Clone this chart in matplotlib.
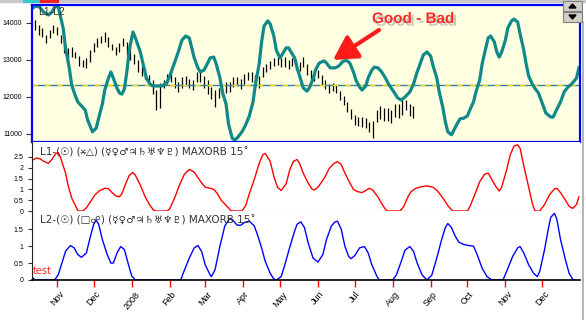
import datetime as dt
import numpy as np
import matplotlib
matplotlib.use("Agg")
import matplotlib.pyplot as plt
import matplotlib.dates as mdates
import matplotlib.patheffects as pe
from matplotlib import font_manager as fm
from matplotlib.ft2font import FT2Font
from matplotlib.patches import Rectangle, Polygon

# ---- data (x values are days since 2007-11-01) ----
base = dt.date(2007, 11, 1)

# price bars, one every 3 days from day -18
bar_start = -18
bar_step = 3
price_hi = [14070, 13940, 13860, 13670, 13800, 13940, 13880, 13670, 13450, 13320,
            13340, 13210, 13100, 12990, 13050, 13260, 13450, 13590, 13640, 13750,
            13610, 13420, 13340, 13450, 13590, 13480, 13340, 13150, 12990, 12860,
            12770, 12590, 12450, 12180, 12370, 12450, 12610, 12700, 12530, 12400,
            12530, 12560, 12480, 12450, 12670, 12670, 12560, 12450, 12260, 12180,
            12240, 12290, 12400, 12400, 12530, 12530, 12480, 12610, 12670, 12670,
            12590, 12560, 12800, 12880, 12960, 13050, 13070, 13050, 13070, 12990,
            13050, 12990, 12940, 13070, 12880, 12720, 12640, 12720, 12590, 12450,
            12340, 12370, 12320, 12150, 12020, 11860, 11670, 11510, 11450, 11450,
            11420, 11320, 11340, 11640, 11750, 11690, 11690, 11640, 11800, 11800,
            11910, 11910, 11800, 11750]
price_lo = [13800, 13670, 13610, 13450, 13590, 13720, 13670, 13450, 13180, 12990,
            13070, 13050, 12830, 12800, 12780, 12940, 13210, 13340, 13450, 13480,
            13340, 13260, 13130, 13210, 13370, 13100, 12990, 12880, 12670, 12560,
            12480, 12320, 12070, 11640, 11690, 12240, 12340, 12400, 12240, 12130,
            12240, 12290, 12240, 12180, 12400, 12400, 12240, 12070, 11940, 11720,
            11970, 12020, 12100, 12130, 12260, 12290, 12210, 12340, 12450, 12400,
            12260, 12240, 12530, 12670, 12750, 12830, 12860, 12800, 12800, 12750,
            12830, 12720, 12690, 12800, 12590, 12450, 12420, 12500, 12320, 12210,
            12100, 12150, 12100, 11910, 11780, 11590, 11400, 11240, 11210, 11180,
            11150, 11050, 10880, 11320, 11400, 11340, 11340, 11290, 11450, 11420,
            11510, 11640, 11480, 11420]

# L1-L2 curve
l12_days = [-20, -17, -14, -11, -7, -4, -2, 1, 2, 5,
            7, 10, 12, 15, 17, 20, 23, 25, 28, 29,
            32, 34, 37, 39, 42, 44, 46, 49, 51, 53,
            55, 57, 59, 62, 64, 68, 71, 73, 76, 78,
            82, 86, 90, 92, 95, 99, 102, 105, 108, 110,
            112, 115, 117, 120, 123, 125, 128, 130, 133, 135,
            138, 140, 143, 145, 147, 151, 154, 157, 160, 162,
            165, 167, 169, 172, 174, 177, 179, 182, 184, 187,
            189, 191, 194, 196, 199, 201, 204, 206, 209, 211,
            214, 218, 220, 223, 227, 230, 233, 236, 239, 242,
            244, 247, 249, 252, 254, 257, 259, 262, 265, 268,
            271, 275, 278, 281, 284, 288, 291, 294, 297, 299,
            302, 305, 307, 310, 312, 315, 317, 319, 322, 324,
            327, 329, 332, 335, 337, 340, 342, 345, 347, 350,
            352, 354, 357, 359, 361, 363, 366, 368, 371, 373,
            376, 378, 381, 383, 385, 388, 390, 393, 396, 399,
            403, 405, 407, 411, 414, 417, 420, 424, 426]
l12_vals = [14400, 14450, 14420, 14290, 14210, 14290, 14420, 14450, 14290, 13860,
            13320, 12780, 12320, 12020, 11860, 11750, 11640, 11370, 11130, 11050,
            11150, 11420, 11800, 12180, 12500, 12670, 12500, 12230, 12100, 12070,
            12210, 12670, 13260, 13750, 13590, 13210, 12780, 12500, 12340, 12290,
            12290, 12290, 12400, 12560, 12830, 13210, 13530, 13640, 13590, 13320,
            13050, 12780, 12670, 12720, 12910, 13050, 13070, 12880, 12510, 12130,
            11800, 11260, 10880, 10830, 10880, 11050, 11240, 11480, 11860, 12340,
            12880, 13480, 13910, 14050, 13970, 13640, 13260, 13050, 13150, 13320,
            13320, 13210, 13050, 12780, 12450, 12240, 12150, 12240, 12480, 12720,
            12910, 12970, 12910, 12780, 12780, 12830, 12940, 12990, 12910, 12670,
            12450, 12260, 12180, 12290, 12510, 12720, 12800, 12780, 12670, 12510,
            12320, 12130, 11970, 11910, 11990, 12130, 12340, 12670, 12940, 13130,
            13210, 13100, 12830, 12510, 12130, 11700, 11320, 11050, 10970, 11100,
            11290, 11400, 11420, 11480, 11640, 11860, 12130, 12450, 12880, 13320,
            13590, 13640, 13480, 13210, 13070, 13210, 13530, 13860, 14050, 14100,
            14020, 13700, 13260, 12880, 12560, 12340, 12230, 12100, 11830, 11560,
            11450, 11450, 11590, 11860, 12130, 12260, 12340, 12500, 12780]
mid_level = 12320

# L1 aspect curve
l1_days = [-20, -17, -14, -11, -7, -4, -1, 1, 3, 7,
           9, 12, 15, 17, 18, 21, 24, 27, 31, 35,
           39, 42, 45, 48, 51, 53, 56, 59, 62, 64,
           68, 72, 76, 79, 81, 90, 92, 96, 100, 104,
           108, 112, 115, 118, 121, 125, 128, 131, 134, 139,
           142, 143, 151, 154, 157, 161, 165, 168, 170, 174,
           177, 180, 183, 187, 190, 193, 196, 198, 201, 205,
           208, 210, 213, 218, 222, 226, 229, 232, 235, 239,
           242, 245, 249, 252, 255, 258, 262, 265, 268, 270,
           280, 283, 286, 289, 293, 297, 302, 307, 311, 315,
           319, 323, 335, 337, 341, 345, 349, 352, 354, 358,
           361, 363, 367, 370, 373, 376, 378, 381, 385, 388,
           390, 391, 394, 398, 402, 406, 408, 411, 415, 418,
           421, 424, 426]
l1_vals = [2.35, 2.45, 2.42, 2.3, 2.2, 2.4, 2.65, 2.7, 2.45, 1.75,
           1.2, 0.6, 0.25, 0.02, 0, 0, 0.15, 0.4, 0.75, 0.95,
           1.05, 1.03, 0.85, 0.7, 0.66, 0.8, 1.25, 1.65, 1.78, 1.65,
           1.2, 0.65, 0.25, 0.03, 0, 0, 0.1, 0.6, 1.2, 1.7,
           1.92, 1.8, 1.55, 1.3, 1.1, 1.05, 1.0, 0.8, 0.5, 0.2,
           0.02, 0, 0, 0.25, 0.8, 1.45, 2.2, 2.6, 2.66, 2.3,
           1.6, 1.1, 0.95, 1.25, 1.9, 2.3, 2.38, 2.2, 1.75, 1.3,
           1.02, 0.97, 1.1, 1.5, 1.95, 2.2, 2.28, 2.15, 1.75, 1.3,
           1.0, 0.9, 0.85, 0.95, 1.05, 0.95, 0.65, 0.35, 0.08, 0,
           0, 0.2, 0.6, 0.9, 1.05, 1.12, 1.16, 1.1, 0.9, 0.6,
           0.25, 0, 0, 0.2, 0.75, 1.35, 1.7, 1.75, 1.55, 1.15,
           0.92, 1.1, 1.9, 2.6, 3.0, 3.06, 2.9, 2.1, 1.1, 0.35,
           0.02, 0, 0, 0.3, 0.75, 1.02, 1.05, 0.85, 0.5, 0.22,
           0.12, 0.3, 0.65]

# L2 aspect curve
l2_days = [-20, -19, -17, -2, 1, 4, 7, 11, 14, 17,
           20, 24, 27, 30, 32, 34, 37, 41, 44, 46,
           49, 52, 55, 58, 61, 64, 101, 103, 108, 112,
           115, 118, 121, 125, 126, 129, 133, 137, 141, 144,
           147, 150, 153, 157, 161, 164, 167, 170, 174, 177,
           179, 183, 186, 190, 194, 196, 199, 202, 205, 209,
           213, 217, 220, 224, 227, 229, 232, 235, 238, 240,
           243, 247, 251, 254, 257, 261, 263, 274, 277, 281,
           284, 288, 291, 294, 298, 302, 306, 310, 314, 317,
           319, 322, 325, 328, 332, 336, 340, 343, 347, 351,
           355, 364, 367, 372, 376, 378, 381, 385, 389, 392,
           394, 398, 401, 403, 406, 408, 411, 415, 418, 421,
           423]
l2_vals = [0.08, 0.03, 0, 0, 0.15, 0.5, 0.85, 1.02, 0.95, 0.75,
           0.67, 0.8, 1.25, 1.65, 1.77, 1.65, 1.2, 0.75, 0.5, 0.5,
           0.8, 0.99, 0.9, 0.5, 0.12, 0, 0, 0.2, 0.65, 0.95,
           1.02, 0.85, 0.45, 0.15, 0.1, 0.3, 1.0, 1.6, 1.82, 1.75,
           1.62, 1.62, 1.7, 1.74, 1.6, 1.3, 0.95, 0.55, 0.2, 0.03,
           0, 0.1, 0.45, 0.97, 1.45, 1.65, 1.72, 1.55, 1.1, 0.65,
           0.53, 0.75, 1.2, 1.6, 1.72, 1.74, 1.5, 1.0, 0.7, 0.63,
           0.72, 0.95, 0.99, 0.8, 0.45, 0.12, 0, 0, 0.15, 0.55,
           0.88, 0.99, 0.85, 0.5, 0.15, 0, 0.15, 0.65, 1.2, 1.55,
           1.67, 1.55, 1.3, 1.12, 1.05, 1.02, 1.0, 0.75, 0.35, 0.1,
           0, 0, 0.25, 0.7, 0.95, 0.99, 0.8, 0.45, 0.2, 0.1,
           0.25, 0.9, 1.5, 1.85, 1.97, 1.8, 1.2, 0.6, 0.2, 0.02,
           0]

month_labels = ["Nov", "Dec", "2008", "Feb", "Mar", "Apr", "May",
                "Jun", "Jul", "Aug", "Sep", "Oct", "Nov", "Dec"]

SEXTILE = "\u26b9"
planets = "\u263f\u2640\u2642\u2643\u2644\u2645\u2646\u2647"
label_l1 = "L1-(\u2609) (" + SEXTILE + "\u25b3) (" + planets + ") MAXORB 15\u02da"
label_l2 = "L2-(\u2609) (\u25a1\u260d) (" + planets + ") MAXORB 15\u02da"

# find an installed family that has the sextile glyph
label_fams = ["DejaVu Sans"]
sextile_ok = False
for f in fm.fontManager.ttflist:
    try:
        if FT2Font(f.fname).get_char_index(ord(SEXTILE)):
            label_fams.append(f.name)
            sextile_ok = True
            break
    except Exception:
        pass
if not sextile_ok:
    # no installed font has it: use the closest asterisk-like glyph
    label_l1 = label_l1.replace(SEXTILE, "\u2731")

# ---- plotting ----
d0 = mdates.date2num(base)
def tx(days):
    return d0 + np.asarray(days, dtype=float)

bar_x = tx(bar_start + bar_step * np.arange(len(price_hi)))
month_x = [mdates.date2num(dt.date(2007 + (10 + i) // 12, (10 + i) % 12 + 1, 1))
           for i in range(len(month_labels))]
xlim = (tx(-20.4), tx(426.5))

W, H = 586, 320
fig = plt.figure(figsize=(W / 100, H / 100), dpi=100)
fig.patch.set_facecolor("white")

def fax(l, t, r, b):
    return fig.add_axes([l / W, 1 - b / H, (r - l) / W, (b - t) / H])

ax1 = fax(32, 5, 579.5, 142)
ax2 = fax(32, 142, 579.5, 211)
ax3 = fax(32, 211, 579.5, 280)

tickfont = dict(family=["Liberation Sans", "DejaVu Sans"], size=5)

# top panel
ax1.set_facecolor("#ffffe1")
ax1.vlines(bar_x, price_lo, price_hi, color="black", lw=0.9)
ax1.axhline(mid_level, color="#2f7f9f", lw=1)
ax1.axhline(mid_level, color="#f0d800", lw=1, dashes=(4, 5))
ax1.plot(tx(l12_days), l12_vals, color="#11898a", lw=2.3, solid_joinstyle="round")
ax1.set_xlim(*xlim)
ax1.set_ylim(10775, 14480)
ax1.set_xticks([])
ax1.set_yticks([11000, 12000, 13000, 14000])
ax1.set_yticklabels(["11000", "12000", "13000", "14000"], fontdict=tickfont)
ax1.tick_params(axis="y", length=4, width=0.8, pad=3, color="#333333")
for s in ax1.spines.values():
    s.set_color("#0000ff")
    s.set_linewidth(1.6)

# middle panel
ax2.plot(tx(l1_days), l1_vals, color="#ff0000", lw=1)
ax2.set_xlim(*xlim)
ax2.set_ylim(0, 3.19)
ax2.set_xticks([])
ax2.set_yticks([0, 0.5, 1, 1.5, 2, 2.5])
ax2.set_yticklabels(["0", "0.5", "1", "1.5", "2", "2.5"], fontdict=tickfont)
ax2.tick_params(axis="y", length=3, width=0.8, pad=3, color="#333333")
ax2.spines["top"].set_visible(False)
ax2.spines["right"].set_visible(False)
ax2.spines["bottom"].set_color("#b0b0b0")
ax2.spines["left"].set_color("#222222")
ax2.spines["left"].set_linewidth(0.8)

# bottom panel
ax3.plot(tx(l2_days), l2_vals, color="#0000ff", lw=1)
ax3.set_xlim(*xlim)
ax3.set_ylim(0, 2.04)
ax3.set_yticks([0, 0.5, 1, 1.5])
ax3.set_yticklabels(["0", "0.5", "1", "1.5"], fontdict=tickfont)
ax3.tick_params(axis="y", length=3, width=0.8, pad=3, color="#333333")
ax3.set_xticks(month_x)
ax3.set_xticklabels(month_labels, rotation=50, ha="center", va="top",
                    fontdict=dict(family=["Liberation Sans", "DejaVu Sans"], size=6.5))
ax3.tick_params(axis="x", length=5, width=1, color="#ff0000", pad=2)
ax3.spines["top"].set_visible(False)
ax3.spines["right"].set_visible(False)
ax3.spines["bottom"].set_color("black")
ax3.spines["bottom"].set_linewidth(1.2)
ax3.spines["left"].set_color("#222222")
ax3.spines["left"].set_linewidth(0.8)

# texts
fig.text(38 / W, 1 - 12 / H, "L1-L2", family=["Liberation Sans", "DejaVu Sans"],
         size=7.5, color="#333333", va="center", ha="left")
fig.text(40 / W, 1 - 152 / H, label_l1, family=label_fams,
         size=7.5, color="#333333", va="center", ha="left")
fig.text(40 / W, 1 - 220 / H, label_l2, family=label_fams,
         size=7.5, color="#333333", va="center", ha="left")
fig.text(33 / W, 1 - 271 / H, "test", family="DejaVu Sans", size=7,
         color="#ff2020", va="center", ha="left")

shadow = [pe.SimplePatchShadow(offset=(2, -2), shadow_rgbFace="#888888", alpha=0.45), pe.Normal()]
fig.text(372 / W, 1 - 19 / H, "Good - Bad", family=["Liberation Sans", "DejaVu Sans"],
         size=11, weight="bold", color="#ff2a2a", va="center", ha="left",
         path_effects=shadow)
ax1.annotate("", xy=(333 / W, 1 - 60 / H), xycoords="figure fraction",
             xytext=(379 / W, 1 - 30 / H), textcoords="figure fraction",
             arrowprops=dict(arrowstyle="-|>,head_length=0.9,head_width=0.5",
                             lw=3, color="#ff1a1a", mutation_scale=16,
                             shrinkA=0, shrinkB=0, path_effects=shadow))

# window chrome: top strip, scroll buttons, right edge
fig.patches.append(Rectangle((0, 1 - 2 / H), 1, 2 / H, transform=fig.transFigure,
                             color="#c8c8c8", zorder=0))
fig.patches.append(Rectangle((23 / W, 1 - 2 / H), 17 / W, 2 / H, transform=fig.transFigure,
                             color="#33cccc"))
fig.patches.append(Rectangle((40 / W, 1 - 2 / H), 18 / W, 2 / H, transform=fig.transFigure,
                             color="#ee2222"))
for top in (1, 12):
    fig.patches.append(Rectangle((563 / W, 1 - (top + 10) / H), 19 / W, 10 / H,
                                 transform=fig.transFigure, facecolor="#d4d0c8",
                                 edgecolor="#808080", lw=0.8, zorder=5))
fig.patches.append(Polygon([(569 / W, 1 - 8 / H), (576 / W, 1 - 8 / H), (572.5 / W, 1 - 4 / H)],
                           closed=True, transform=fig.transFigure, color="black", zorder=6))
fig.patches.append(Polygon([(569 / W, 1 - 15 / H), (576 / W, 1 - 15 / H), (572.5 / W, 1 - 19 / H)],
                           closed=True, transform=fig.transFigure, color="black", zorder=6))
fig.lines.append(plt.Line2D([582.5 / W, 582.5 / W], [0, 1 - 22 / H], transform=fig.transFigure,
                            color="#a8a8a8", lw=1.2))

fig.savefig("out.png", dpi=100, facecolor="white")
